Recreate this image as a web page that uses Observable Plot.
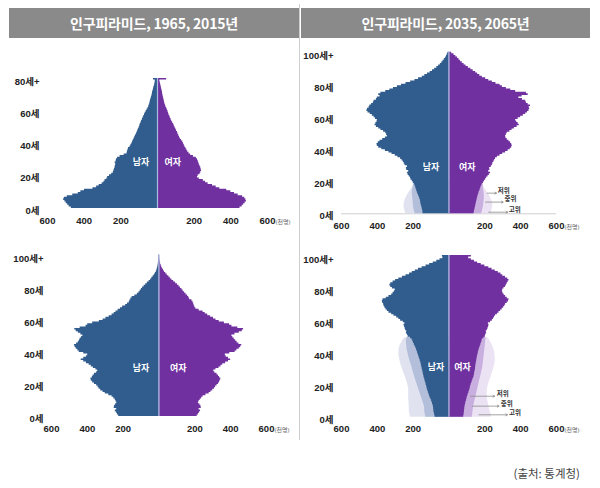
<!DOCTYPE html>
<html><head><meta charset="utf-8">
<script src="https://cdn.jsdelivr.net/npm/d3@7"></script>
<script src="https://cdn.jsdelivr.net/npm/@observablehq/plot@0.6"></script>
<style>
body{margin:0;background:#fff;}
#root{position:relative;width:600px;height:488px;overflow:hidden;background:#fff;font-family:"Noto Sans CJK KR","Noto Sans",sans-serif;}
.hdr{position:absolute;top:8px;height:30px;background:#8a8a8a;color:#fff;font-weight:700;font-size:14px;line-height:30px;text-align:center;letter-spacing:-0.2px;}
.divider{position:absolute;left:299px;top:4px;width:1px;height:436px;background:#cfcfcf;}
.panel{position:absolute;width:300px;height:200px;}
.src{position:absolute;right:20px;top:465px;font-size:11.5px;color:#444;}
</style></head>
<body>
<div id="root">
  <div class="hdr" style="left:9px;width:290px">인구피라미드, 1965, 2015년</div>
  <div class="hdr" style="left:301px;width:289px">인구피라미드, 2035, 2065년</div>
  <div class="divider"></div>
  <div id="p1965" class="panel" style="left:0;top:40px"></div>
  <div id="p2035" class="panel" style="left:300px;top:40px"></div>
  <div id="p2015" class="panel" style="left:0;top:240px"></div>
  <div id="p2065" class="panel" style="left:300px;top:240px"></div>
  <div class="src">(출처: 통계청)</div>
</div>
<script>
// ---------- data (thousand persons, by single year of age) ----------
const male1965 = [
 470,482,490,498,505,512,508,492,462,432,
 418,398,352,332,318,302,292,286,276,272,
 262,250,241,238,235,232,230,228,231,226,
 224,218,204,182,166,164,161,158,150,145,
 140,136,132,128,124,120,115,111,108,104,
 100,97,94,90,87,82,79,75,71,67,
 62,57,52,48,45,42,40,38,35,33,
 30,28,27,24,22,20,17,15,13,12,
 22];
const female1965 = [
 450,462,470,478,485,482,476,464,440,420,
 400,378,340,320,300,276,262,250,228,218,
 222,232,236,240,238,236,232,228,225,222,
 218,212,196,181,172,165,160,155,150,146,
 142,138,131,125,120,116,112,109,104,100,
 96,92,88,83,78,74,70,67,63,60,
 57,54,50,46,43,40,38,36,34,32,
 30,28,27,25,23,21,19,17,15,13,
 50];
const male2015 = [
 225,232,238,244,236,250,248,242,236,240,
 244,252,262,280,300,312,325,334,340,348,
 360,370,378,380,372,368,360,348,342,352,
 366,378,390,405,420,434,420,405,398,420,
 445,453,462,468,472,460,450,444,440,432,
 425,436,450,462,470,440,407,398,370,333,
 312,296,278,262,250,240,228,215,203,186,
 176,166,162,157,150,135,121,112,105,98,
 92,83,74,65,55,47,40,33,26,20,
 15,12,9,7,5,4,3,2,2,1,
 1];
const female2015 = [
 213,220,226,232,224,236,234,228,220,224,
 230,238,246,262,280,290,300,310,316,324,
 332,338,342,345,338,332,324,312,306,318,
 335,346,356,372,388,400,388,375,370,395,
 425,435,448,456,462,446,436,428,420,412,
 407,424,448,465,472,440,407,394,365,336,
 318,304,288,272,258,246,224,206,200,196,
 194,190,184,171,166,160,151,143,135,128,
 120,112,103,93,82,72,63,55,46,38,
 31,25,20,15,12,9,7,5,4,3,
 3];
// 2035 projection: low-fertility variant (저위) for all ages
const male2035 = [
 145,146,148,150,152,155,157,158,160,163,
 166,170,174,177,180,183,186,189,192,198,
 205,212,215,222,228,232,225,236,238,232,
 245,250,255,262,270,285,300,318,335,355,
 375,392,400,402,395,385,370,355,344,348,
 353,365,380,392,405,413,408,402,400,410,
 418,428,440,452,458,455,446,442,432,422,
 418,405,400,385,392,380,353,330,310,288,
 265,240,214,190,170,149,135,120,105,92,
 80,68,58,48,40,33,26,19,14,10,
 6];
const female2035 = [
 140,142,144,146,148,150,152,154,156,158,
 160,163,166,168,172,175,178,182,186,192,
 198,205,210,218,225,232,222,228,227,236,
 242,245,250,255,260,270,285,300,316,330,
 342,350,353,350,344,335,325,318,316,320,
 325,340,352,365,380,392,386,378,372,386,
 400,415,428,438,446,450,448,455,442,432,
 428,410,390,408,442,432,372,345,320,298,
 285,262,242,222,205,186,172,160,149,135,
 122,108,95,84,74,64,56,48,38,28,
 15];
// medium (중위) and high (고위) variants, ages 0-19
const male2035Mid  = [190,193,195,197,198,199,200,200,201,202,203,204,205,205,204,202,200,198,197,199];
const male2035High = [242,245,248,250,251,251,250,248,245,242,238,233,228,222,216,210,205,201,199,200];
const female2035Mid  = [183,186,188,190,192,193,194,195,196,197,197,197,196,195,194,193,192,191,190,193];
const female2035High = [235,238,240,242,244,245,244,242,238,234,230,225,219,213,207,201,196,192,190,193];
// 2065 projection: low variant for all ages
const male2065 = [
 78,80,82,84,85,86,87,89,92,95,
 98,102,106,109,112,115,118,121,123,125,
 128,130,133,135,138,140,142,144,146,148,
 150,152,154,156,158,161,164,167,170,173,
 176,179,182,186,190,194,198,202,206,215,
 228,232,238,236,242,245,248,251,246,255,
 270,280,292,307,320,335,344,352,358,362,
 365,370,372,368,350,335,320,312,305,300,
 316,325,330,325,312,298,280,260,240,220,
 205,188,170,150,128,108,88,68,50,34,
 37];
const female2065 = [
 82,84,85,86,87,88,89,91,93,95,
 98,100,102,105,108,111,114,117,119,121,
 124,127,130,133,137,140,142,143,145,147,
 148,149,150,152,153,155,156,158,160,162,
 164,166,169,172,175,178,181,184,186,195,
 203,205,210,208,214,218,221,223,220,232,
 242,248,254,260,270,279,288,297,305,311,
 316,325,332,335,325,316,308,302,298,300,
 307,315,320,325,330,335,328,315,300,290,
 275,258,240,222,200,180,160,142,125,110,
 125];
// medium and high variants, ages 0-49
const male2065Mid = [
 130,132,134,135,136,136,137,139,142,145,
 148,151,154,157,160,163,166,169,172,175,
 178,181,184,187,190,192,195,198,200,203,
 205,207,210,213,216,219,222,224,226,228,
 230,232,234,235,236,237,238,238,237,235];
const male2065High = [
 215,218,220,221,222,222,222,222,223,224,
 224,225,225,225,225,225,225,225,226,228,
 230,233,236,239,242,245,248,252,255,258,
 261,264,267,270,272,274,276,278,279,280,
 280,280,279,277,274,270,265,260,255,248];
const female2065Mid = [
 130,132,133,134,135,136,137,139,141,143,
 145,148,150,152,154,156,158,160,162,164,
 166,168,170,172,175,177,179,181,183,185,
 187,189,190,191,192,193,194,195,196,197,
 198,199,200,201,202,203,204,205,206,207];
const female2065High = [
 238,236,234,230,227,225,223,222,220,218,
 216,215,214,213,213,213,214,215,216,218,
 220,223,226,229,232,235,238,241,244,247,
 250,252,254,256,257,258,258,258,257,256,
 255,253,250,247,243,239,235,230,225,218];

const popTicks = [-600, -400, -200, 200, 400, 600];
const ageTicks1965 = [0, 20, 40, 60, 80];
const ageLabels1965 = ["0세", "20세", "40세", "60세", "80세+"];
const ageTicks = [0, 20, 40, 60, 80, 100];
const ageLabels = ["0세", "20세", "40세", "60세", "80세", "100세+"];
const sexNames = ["남자", "여자"];
const unitLabel = "(천명)";
const variantNames = ["저위", "중위", "고위"];

// ---------- drawing ----------
const BLUE = "#305c8e", PURPLE = "#7030a0";
const BLUE_MID = "#b3bfda", BLUE_HIGH = "#e0e3ef";
const PURPLE_MID = "#c9aee0", PURPLE_HIGH = "#ebe2f3";
const FONT = '"Liberation Sans","Noto Sans CJK KR",sans-serif';

function stepRows(vals) {
  const r = vals.map((v, i) => ({age: i, v}));
  r.push({age: vals.length, v: vals[vals.length - 1]});
  return r;
}
function bandRows(vals, main) {
  const r = vals.map((v, i) => ({age: i + 0.5, v}));
  r.unshift({age: 0, v: vals[0]});
  r.push({age: vals.length, v: main[vals.length]});
  return r;
}

function pyramid(c) {
  const marks = [];
  if (c.baseline) marks.push(Plot.ruleY([0], {stroke: "#cfcfcf", strokeWidth: 1}));
  if (c.maleHigh) {
    marks.push(Plot.areaX(bandRows(c.maleHigh, c.male), {y: "age", x1: () => 0, x2: d => -d.v, curve: "basis", fill: BLUE_HIGH}));
    marks.push(Plot.areaX(bandRows(c.femaleHigh, c.female), {y: "age", x1: () => 0, x2: d => d.v, curve: "basis", fill: PURPLE_HIGH}));
    marks.push(Plot.areaX(bandRows(c.maleMid, c.male), {y: "age", x1: () => 0, x2: d => -d.v, curve: "basis", fill: BLUE_MID}));
    marks.push(Plot.areaX(bandRows(c.femaleMid, c.female), {y: "age", x1: () => 0, x2: d => d.v, curve: "basis", fill: PURPLE_MID}));
  }
  marks.push(Plot.areaX(stepRows(c.male), {y: "age", x1: () => 0, x2: d => -d.v, curve: "step-before", fill: BLUE}));
  marks.push(Plot.areaX(stepRows(c.female), {y: "age", x1: () => 0, x2: d => d.v, curve: "step-before", fill: PURPLE}));
  marks.push(Plot.ruleX([0], {y1: () => 0, y2: () => c.male.length, stroke: "#a9bcdc", strokeWidth: 1.2}));
  marks.push(Plot.text(sexNames, {x: (d, i) => c.sexX[i], y: () => c.sexAge, text: d => d, fill: "white", fontWeight: "bold", fontSize: 9, fontFamily: '"Noto Sans CJK KR",sans-serif'}));
  marks.push(Plot.text(c.yTicks, {y: d => d, text: (d, i) => c.yLabels[i], frameAnchor: "left", dx: -8, dy: c.yDy, textAnchor: "end", fontWeight: "bold", fontSize: 9.5, fill: "#222"}));
  marks.push(Plot.text(popTicks, {x: d => d, text: d => Math.abs(d), frameAnchor: "bottom", dy: c.xDy, fontWeight: "bold", fontSize: 9.5, fill: "#222"}));
  marks.push(Plot.text([unitLabel], {x: () => 600, text: d => d, frameAnchor: "bottom", dy: c.xDy, dx: 8, textAnchor: "start", fontSize: 6, fill: "#666"}));
  if (c.notes) {
    marks.push(Plot.arrow(c.notes, {x1: "from", x2: "to", y1: "age", y2: "age", stroke: "#8c8c8c", strokeWidth: 0.8, headLength: 3.5}));
    marks.push(Plot.text(c.notes, {x: "tx", y: "tAge", text: "name", textAnchor: "start", fontSize: 6.5, fontWeight: "bold", fill: "#333", fontFamily: '"Noto Sans CJK KR",sans-serif'}));
  }
  return Plot.plot({
    width: 300, height: 200,
    marginLeft: c.ml, marginRight: c.mr, marginTop: c.mt, marginBottom: c.mb,
    x: {domain: [-600, 600], axis: null},
    y: {domain: [0, c.male.length], axis: null},
    style: {fontFamily: FONT, background: "transparent", overflow: "visible"},
    marks
  });
}

const notes2035 = variantNames.map((name, i) => ({name,
  from: [213, 204, 222][i], to: [265, 302, 328][i], age: [12.9, 7.3, 1][i],
  tx: [272, 310, 334][i], tAge: [14.6, 9.6, 2.3][i]}));
const notes2065 = variantNames.map((name, i) => ({name,
  from: [121, 131, 167][i], to: [255, 279, 326][i], age: [13.1, 6.9, 1.5][i],
  tx: [266, 289, 335][i], tAge: [14.4, 8.2, 2.4][i]}));

document.getElementById("p1965").appendChild(pyramid({
  male: male1965, female: female1965, yTicks: ageTicks1965, yLabels: ageLabels1965,
  ml: 47, mr: 33, mt: 38, mb: 32, yDy: 2, xDy: 15, sexX: [-90, 83], sexAge: 29
}));
document.getElementById("p2035").appendChild(pyramid({
  male: male2035, female: female2035, maleMid: male2035Mid, maleHigh: male2035High,
  femaleMid: female2035Mid, femaleHigh: female2035High,
  yTicks: ageTicks, yLabels: ageLabels,
  ml: 41, mr: 44, mt: 11.7, mb: 26.7, yDy: 2, xDy: 14.7, sexX: [-100, 102], sexAge: 29,
  notes: notes2035, baseline: true
}));
document.getElementById("p2015").appendChild(pyramid({
  male: male2015, female: female2015, yTicks: ageTicks, yLabels: ageLabels,
  ml: 51, mr: 34, mt: 14.4, mb: 24, yDy: 2.5, xDy: 15, sexX: [-100, 107], sexAge: 30.5
}));
document.getElementById("p2065").appendChild(pyramid({
  male: male2065, female: female2065, maleMid: male2065Mid, maleHigh: male2065High,
  femaleMid: female2065Mid, femaleHigh: female2065High,
  yTicks: ageTicks, yLabels: ageLabels,
  ml: 41, mr: 44, mt: 15, mb: 23.3, yDy: 2.5, xDy: 14.3, sexX: [-73, 75], sexAge: 31,
  notes: notes2065
}));
</script>
</body></html>
